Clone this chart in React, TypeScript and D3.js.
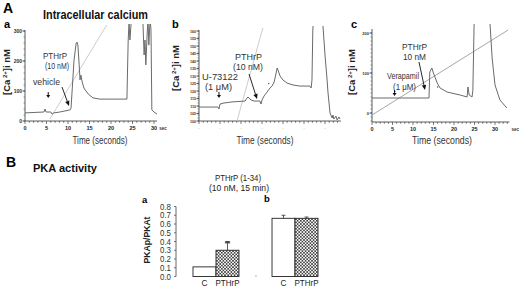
import React from 'react';
import * as d3 from 'd3';

// ---------- Data ----------
const timeTicks = [0, 5, 10, 15, 20, 25, 30];

// Panel A-a : vehicle then PTHrP
const caTicksA = [0, 100, 200, 300];
const traceA: [number, number][] = [
  [0, 27], [4.4, 30], [4.65, 40], [4.9, 30], [6.0, 30], [6.3, 23], [6.7, 27], [8.1, 30],
  [10.5, 37], [10.7, 43], [10.9, 87], [11.4, 203], [11.9, 260], [12.1, 263], [12.3, 253],
  [12.6, 187], [12.8, 137], [13.0, 153], [13.3, 130], [13.7, 110], [14.7, 90], [15.8, 77],
  [17.4, 73], [23.7, 73], [24.0, 270], [24.2, 330], [24.4, 270], [24.7, 330], [25.1, 340],
  [27.4, 340], [27.7, 220], [27.9, 270], [28.1, 187], [28.4, 287], [28.6, 340], [28.8, 253],
  [29.1, 340], [29.3, 303], [29.5, 37], [30.0, 30], [30.7, 23],
];
const guideA: [number, number][] = [[5.8, 7], [19.0, 320]];

// Panel A-b : U-73122 then PTHrP
const caTicksB = [100, 105, 110, 115, 120, 125, 130, 135, 140, 145, 150, 155, 160];
const traceB: [number, number][] = [
  [0, 109.3], [4.52, 109.3], [4.76, 108], [5.0, 111.3], [5.95, 112], [7.86, 112.7],
  [10.95, 113.3], [11.43, 115.3], [11.67, 116], [12.38, 114], [13.1, 113.3], [14.5, 113.3],
  [14.76, 111.3], [15.0, 114], [15.5, 116.7], [16.2, 119.3], [16.9, 122], [17.4, 123.3],
  [17.9, 126], [18.3, 131.3], [18.6, 135.3], [18.8, 134], [19.3, 130], [20.0, 127.3],
  [20.95, 125.3], [22.4, 124], [24.0, 123.3], [26.4, 123.3], [26.7, 122], [26.9, 127.3],
  [27.1, 160.7], [27.4, 174], [29.3, 174], [29.5, 164], [30.0, 144], [30.5, 127.3],
  [30.7, 119.3], [31.2, 105.3], [31.7, 102], [31.9, 104], [32.1, 101.3], [32.6, 103.3],
  [32.9, 100.7], [33.3, 102.7], [33.6, 101.3],
];
const guideB: [number, number][] = [[9.05, 100], [15.2, 162]];

// Panel A-c : Verapamil then PTHrP
const caTicksC = [0, 100, 200];
const traceC: [number, number][] = [
  [0, 37.5], [13.9, 37.5], [14.1, 102.5], [14.6, 112.5], [14.9, 102.5], [15.9, 75],
  [16.6, 62.5], [18.3, 52.5], [21.5, 45], [23.2, 40], [23.4, 65], [23.7, 45], [24.4, 40],
  [24.6, 57], [24.9, 220], [25.1, 240], [28.6, 240], [28.8, 220], [29.3, 137.5], [30.0, 70],
  [31.2, 32.5], [32.9, 12.5],
];
const guideC: [number, number][] = [[0, -5], [33.2, 207.5]];

// Panel B : PKA activity
const barGroups = ['a', 'b'];
const barConditions = ['C', 'PTHrP'];
const pkaRatioA = [0.11, 0.30];
const pkaErrorA = [0.0, 0.10];
const pkaRatioB = [0.665, 0.665];
const pkaErrorB = [0.035, 0.015];
const pkaTicks = [0, 0.1, 0.2, 0.3, 0.4, 0.5, 0.6, 0.7, 0.8];

const FONT = '"Liberation Sans", Arial, Helvetica, sans-serif';

// ---------- Helpers ----------
type TxtProps = {
  x: number; y: number; size: number; bold?: boolean; w?: number;
  anchor?: 'start' | 'middle' | 'end'; fill?: string; children: React.ReactNode; rotate?: boolean;
};
function Txt({ x, y, size, bold, w, anchor = 'start', fill = '#222', children, rotate }: TxtProps) {
  return (
    <text
      x={x} y={y} fontSize={size} fontWeight={bold ? 'bold' : 'normal'} fontFamily={FONT}
      textAnchor={anchor} fill={fill}
      textLength={w} lengthAdjust={w ? 'spacingAndGlyphs' : undefined}
      transform={rotate ? `rotate(-90 ${x} ${y})` : undefined}
    >
      {children}
    </text>
  );
}

function CaLabel({ x, y }: { x: number; y: number }) {
  return (
    <text x={x} y={y} fontSize={9.5} fontWeight="bold" fontFamily={FONT} textAnchor="middle"
      fill="#222" transform={`rotate(-90 ${x} ${y})`}>
      [Ca<tspan fontSize={6} dy={-3.5}> 2+</tspan><tspan dy={3.5}>]i nM</tspan>
    </text>
  );
}

function DownMark({ x, y }: { x: number; y: number }) {
  return (
    <g>
      <line x1={x} y1={y - 6} x2={x} y2={y - 2} stroke="#111" strokeWidth={1} />
      <path d={`M${x - 2},${y - 3} L${x + 2},${y - 3} L${x},${y} Z`} fill="#111" />
    </g>
  );
}

function Arrow({ x1, y1, x2, y2 }: { x1: number; y1: number; x2: number; y2: number }) {
  const a = Math.atan2(y2 - y1, x2 - x1);
  const L = 5, W = 2.2;
  const bx = x2 - L * Math.cos(a), by = y2 - L * Math.sin(a);
  const px = -Math.sin(a) * W, py = Math.cos(a) * W;
  return (
    <g>
      <line x1={x1} y1={y1} x2={bx} y2={by} stroke="#111" strokeWidth={0.9} />
      <path d={`M${bx + px},${by + py} L${bx - px},${by - py} L${x2},${y2} Z`} fill="#111" />
    </g>
  );
}

type PanelProps = {
  id: string;
  xs: d3.ScaleLinear<number, number>;
  ys: d3.ScaleLinear<number, number>;
  trace: [number, number][];
  guide: [number, number][];
  guideColor: string;
  yTicks: number[];
  xEnd: number;
  clipTop: number;
  xLabels: boolean;
  yLabelSize: number;
};

function TracePanel({ id, xs, ys, trace, guide, guideColor, yTicks, xEnd, clipTop, xLabels, yLabelSize }: PanelProps) {
  const line = d3.line<[number, number]>().x(d => xs(d[0])).y(d => ys(d[1]));
  const x0 = xs(0);
  const y0 = ys.range()[0];
  const yTop = ys.range()[1];
  const minor = d3.range(0, xEnd + 0.001, 1);
  const yMinor = d3.ticks(ys.domain()[0], ys.domain()[1], 20);
  return (
    <g>
      <defs>
        <clipPath id={id}>
          <rect x={x0} y={clipTop} width={xs(xEnd) - x0 + 2} height={y0 - clipTop} />
        </clipPath>
      </defs>
      <line x1={x0} y1={y0} x2={xs(xEnd)} y2={y0} stroke="#333" strokeWidth={0.8} />
      <line x1={x0} y1={y0} x2={x0} y2={yTop - 1} stroke="#333" strokeWidth={0.8} />
      {minor.map(t => (
        <line key={'mx' + t} x1={xs(t)} x2={xs(t)} y1={y0} y2={y0 + (t % 5 === 0 ? 3 : 1.8)} stroke="#444" strokeWidth={0.7} />
      ))}
      {yMinor.map(v => (
        <line key={'my' + v} x1={x0 - 1.5} x2={x0} y1={ys(v)} y2={ys(v)} stroke="#555" strokeWidth={0.6} />
      ))}
      {yTicks.map(v => (
        <g key={'yt' + v}>
          <line x1={x0 - 2.5} x2={x0} y1={ys(v)} y2={ys(v)} stroke="#333" strokeWidth={0.8} />
          <Txt x={x0 - 3} y={ys(v) + 1.5} size={yLabelSize} bold anchor="end" fill="#333">{v}</Txt>
        </g>
      ))}
      {timeTicks.map(t => (
        <Txt key={'xt' + t} x={xs(t)} y={y0 + 9} size={xLabels ? 5.5 : 3.5} bold anchor="middle" fill={xLabels ? '#222' : '#777'}>
          {xLabels ? t : '·'}
        </Txt>
      ))}
      {xLabels && <Txt x={xs(xEnd) + 6} y={y0 + 9} size={4.5} bold anchor="middle" fill="#333">sec</Txt>}
      <g clipPath={`url(#${id})`}>
        <path d={line(guide) || ''} fill="none" stroke={guideColor} strokeWidth={0.9} />
        <path d={line(trace) || ''} fill="none" stroke="#6a6a6a" strokeWidth={1} strokeLinejoin="round" />
      </g>
    </g>
  );
}

export default function App() {
  const xA = d3.scaleLinear().domain([0, 30]).range([25, 154]);
  const yA = d3.scaleLinear().domain([0, 300]).range([121, 31]);
  const xB = d3.scaleLinear().domain([0, 30]).range([199, 325]);
  const yB = d3.scaleLinear().domain([100, 160]).range([121, 31]);
  const xC = d3.scaleLinear().domain([0, 30]).range([372, 495]);
  const yC = d3.scaleLinear().domain([-22.5, 207.5]).range([122, 30]);

  const groupScale = d3.scaleBand<string>().domain(barGroups).range([193, 318]).paddingInner(0.418).paddingOuter(0);
  const condScale = d3.scaleBand<string>().domain(barConditions).range([0, groupScale.bandwidth()]).padding(0);
  const yBar = d3.scaleLinear().domain([0, 0.8]).range([276.5, 206.5]);
  const groupValues: Record<string, number[]> = { a: pkaRatioA, b: pkaRatioB };
  const groupErrors: Record<string, number[]> = { a: pkaErrorA, b: pkaErrorB };

  const AN = 8.8; // annotation font size

  return (
    <svg width={520} height={288} viewBox="0 0 520 288"
      style={{ position: 'absolute', left: 0, top: 0, background: '#fff' }}>
      <defs>
        <pattern id="xhatch" patternUnits="userSpaceOnUse" width={3.2} height={3.2}>
          <rect width={3.2} height={3.2} fill="#fff" />
          <path d="M0,0 L3.2,3.2 M3.2,0 L0,3.2" stroke="#333" strokeWidth={0.75} />
        </pattern>
      </defs>

      {/* ---------- Part A ---------- */}
      <Txt x={3} y={13} size={14} bold fill="#000">A</Txt>
      <Txt x={43} y={19} size={13} bold w={105} fill="#111">Intracellular calcium</Txt>

      {/* a */}
      <Txt x={4} y={28} size={11} bold fill="#000">a</Txt>
      <CaLabel x={10} y={72} />
      <TracePanel id="clipA" xs={xA} ys={yA} trace={traceA} guide={guideA} guideColor="#c6c6c6"
        yTicks={caTicksA} xEnd={30.7} clipTop={24} xLabels yLabelSize={5} />
      <Txt x={43} y={59} size={AN} w={24} fill="#333">PTHrP</Txt>
      <Txt x={45} y={69} size={AN} w={24} fill="#333">(10 nM)</Txt>
      <Txt x={33} y={85} size={AN} w={27} fill="#333">vehicle</Txt>
      <Arrow x1={62} y1={87} x2={69} y2={106} />
      <DownMark x={xA(5.4)} y={98} />
      <Txt x={100} y={144} size={10.5} w={55} anchor="middle" fill="#333">Time (seconds)</Txt>

      {/* b */}
      <Txt x={172} y={28} size={11} bold fill="#000">b</Txt>
      <CaLabel x={179} y={68} />
      <TracePanel id="clipB" xs={xB} ys={yB} trace={traceB} guide={guideB} guideColor="#c6c6c6"
        yTicks={caTicksB} xEnd={33.8} clipTop={26} xLabels={false} yLabelSize={3.6} />
      <Txt x={202} y={80} size={AN} w={36} fill="#333">U-73122</Txt>
      <Txt x={205} y={90} size={AN} w={27} fill="#333">(1 μM)</Txt>
      <DownMark x={xB(4.76)} y={98} />
      <Txt x={235} y={60} size={AN} w={27} fill="#333">PTHrP</Txt>
      <Txt x={233} y={70} size={AN} w={30} fill="#333">(10 nM)</Txt>
      <Arrow x1={249} y1={74} x2={257} y2={99} />
      <circle cx={xB(16.6)} cy={yB(125)} r={0.7} fill="#555" />
      <Txt x={265} y={144} size={10.5} w={57} anchor="middle" fill="#333">Time (seconds)</Txt>

      {/* c */}
      <Txt x={351} y={28} size={11} bold fill="#000">c</Txt>
      <CaLabel x={355} y={72} />
      <TracePanel id="clipC" xs={xC} ys={yC} trace={traceC} guide={guideC} guideColor="#9c9c9c"
        yTicks={caTicksC} xEnd={33.5} clipTop={24} xLabels yLabelSize={4} />
      <Txt x={402} y={50} size={AN} w={25} fill="#333">PTHrP</Txt>
      <Txt x={403} y={60} size={AN} w={23} fill="#333">10 nM</Txt>
      <Txt x={387} y={79} size={AN} w={32} fill="#333">Verapamil</Txt>
      <Txt x={393} y={90} size={AN} w={23} fill="#333">(1 μM)</Txt>
      <Arrow x1={419} y1={62} x2={425} y2={90} />
      <DownMark x={xC(5.5)} y={96} />
      <circle cx={xC(16.0)} cy={yC(65)} r={0.7} fill="#555" />
      <Txt x={442} y={144} size={10.5} w={60} anchor="middle" fill="#333">Time (seconds)</Txt>

      {/* ---------- Part B ---------- */}
      <Txt x={6} y={167} size={14} bold fill="#000">B</Txt>
      <Txt x={33} y={172} size={11} bold w={64} fill="#111">PKA activity</Txt>
      <Txt x={238} y={181} size={AN} w={46} anchor="middle" fill="#222">PTHrP (1-34)</Txt>
      <Txt x={239} y={191} size={AN} w={60} anchor="middle" fill="#222">(10 nM, 15 min)</Txt>

      <Txt x={142} y={203} size={9.5} bold fill="#000">a</Txt>
      <Txt x={264} y={202} size={9.5} bold fill="#000">b</Txt>

      <line x1={176} x2={176} y1={yBar(0)} y2={yBar(0.8)} stroke="#444" strokeWidth={0.8} />
      {pkaTicks.map(v => (
        <g key={'pt' + v}>
          <line x1={174} x2={176} y1={yBar(v)} y2={yBar(v)} stroke="#444" strokeWidth={0.7} />
          <Txt x={171} y={yBar(v) + 3} size={8.5} w={11} anchor="end" fill="#333">{v.toFixed(1)}</Txt>
        </g>
      ))}
      <Txt x={150} y={240} size={9} bold w={47} anchor="middle" rotate fill="#222">PKAp/PKAt</Txt>

      {barGroups.map(g => (
        <g key={g} transform={`translate(${groupScale(g)},0)`}>
          {barConditions.map((c, i) => {
            const v = groupValues[g][i];
            const e = groupErrors[g][i];
            const bx = condScale(c) || 0;
            const bw = condScale.bandwidth();
            return (
              <g key={c}>
                {e > 0 && (
                  <g>
                    <line x1={bx + bw / 2} x2={bx + bw / 2} y1={yBar(v)} y2={yBar(v + e)} stroke="#333" strokeWidth={0.8} />
                    <line x1={bx + bw / 2 - 2} x2={bx + bw / 2 + 2} y1={yBar(v + e)} y2={yBar(v + e)} stroke="#333" strokeWidth={0.8} />
                  </g>
                )}
                <rect x={bx} y={yBar(v)} width={bw} height={yBar(0) - yBar(v)}
                  fill={i === 0 ? '#fff' : 'url(#xhatch)'} stroke="#222" strokeWidth={0.9} />
                <Txt x={bx + bw / 2} y={286} size={9.5} w={c === 'C' ? 6 : 24} anchor="middle" fill="#222">{c}</Txt>
              </g>
            );
          })}
        </g>
      ))}
      <Txt x={(groupScale('a') || 0) + condScale('PTHrP')! + condScale.bandwidth() / 2} y={yBar(0.4) + 4} size={7} bold anchor="middle" fill="#333">**</Txt>
      <circle cx={256} cy={276} r={0.6} fill="#555" />
    </svg>
  );
}
